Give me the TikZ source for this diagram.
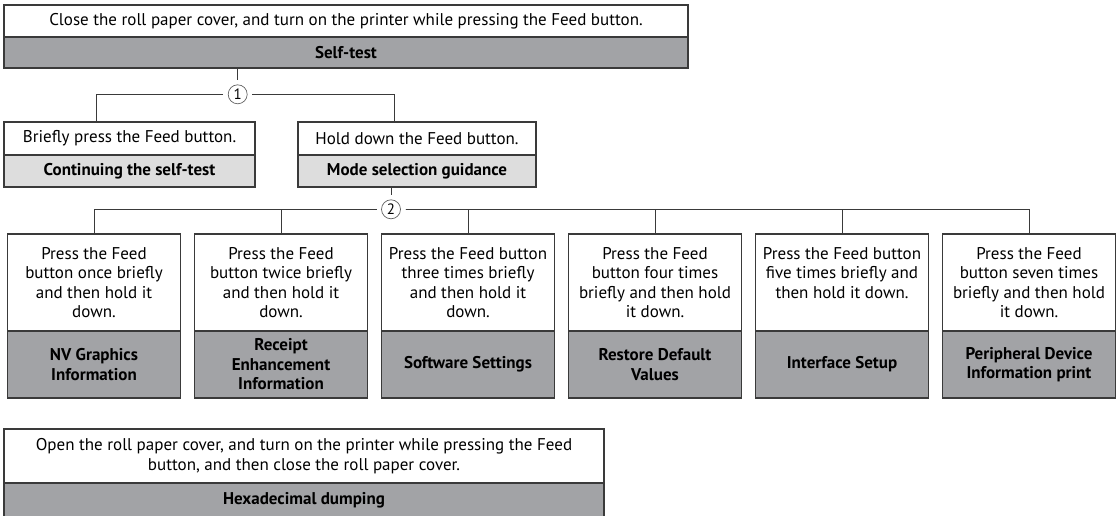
\documentclass[tikz,border=0pt]{standalone}
\usepackage{fontspec}
\setmainfont{PT Sans}
\definecolor{linec}{HTML}{3A3A3A}
\definecolor{dgray}{HTML}{A2A3A6}
\definecolor{lgray}{HTML}{DDDDDD}
\newcommand{\bodyfont}{\fontsize{17}{19.5}\selectfont}
\begin{document}
\begin{tikzpicture}[x=1pt,y=-1pt,
  box/.style={draw=linec, line width=1.1pt, inner sep=0pt, outer sep=0pt, align=center, font=\bodyfont},
  wpart/.style={box, fill=white},
  dpart/.style={box, fill=dgray, font=\bodyfont\bfseries},
  lpart/.style={box, fill=lgray, font=\bodyfont\bfseries},
  txt/.style={inner sep=0pt, outer sep=0pt, align=center, font=\bodyfont, anchor=north},
  conn/.style={draw=linec, line width=1pt},
  circ/.style={circle, draw=linec!80, line width=0.7pt, minimum size=19pt, inner sep=0pt, outer sep=5pt, font=\fontsize{15}{15}\selectfont}
]
\useasboundingbox (0,0) rectangle (1116,515);

% top box
\node[wpart, minimum width=684, minimum height=32, anchor=north west] (top) at (4,5)
  {Close the roll paper cover, and turn on the printer while pressing the Feed button.};
\node[dpart, minimum width=684, minimum height=31, anchor=north] (selftest) at (top.south) {Self-test};

% circle 1
\node[circ] (n1) at (237.7,94.3) {1};

% A and B
\node[wpart, minimum width=251, minimum height=33, anchor=north west] (A) at (4,122) {Briefly press the Feed button.};
\node[lpart, minimum width=251, minimum height=32, anchor=north] (Ag) at (A.south) {Continuing the self-test};
\node[wpart, minimum width=238, minimum height=33, anchor=north west] (B) at (298,122) {Hold down the Feed button.};
\node[lpart, minimum width=238, minimum height=32, anchor=north] (Bg) at (B.south) {Mode selection guidance};

\draw[conn] (selftest.south -| n1) -- (n1.north);
\draw[conn] (n1.west) -| ([xshift=92pt]A.north west);
\draw[conn] (n1.east) -| ([xshift=96pt]B.north west);

% circle 2
\node[circ] (n2) at (391,209.3) {2};
\draw[conn] (Bg.south -| n2) -- (n2.north);

% bottom boxes
\foreach \i/\cx in {1/94,2/281,3/468,4/655,5/842,6/1029}{
  \node[wpart, minimum width=173, minimum height=97, anchor=north] (b\i w) at (\cx,234) {};
}
\node[txt] (b1t) at ([yshift=-13pt]b1w.north) {Press the Feed\\button once briefly\\and then hold it\\down.};
\node[txt] (b2t) at ([yshift=-13pt]b2w.north) {Press the Feed\\button twice briefly\\and then hold it\\down.};
\node[txt] (b3t) at ([yshift=-13pt]b3w.north) {Press the Feed button\\three times briefly\\and then hold it\\down.};
\node[txt] (b4t) at ([yshift=-13pt]b4w.north) {Press the Feed\\button four times\\briefly and then hold\\it down.};
\node[txt] (b5t) at ([yshift=-13pt]b5w.north) {Press the Feed button\\five times briefly and\\then hold it down.};
\node[txt] (b6t) at ([yshift=-13pt]b6w.north) {Press the Feed\\button seven times\\briefly and then hold\\it down.};

\node[dpart, minimum width=173, minimum height=67, anchor=north] (b1g) at (b1w.south) {NV Graphics\\Information};
\node[dpart, minimum width=173, minimum height=67, anchor=north] (b2g) at (b2w.south) {Receipt\\Enhancement\\Information};
\node[dpart, minimum width=173, minimum height=67, anchor=north] (b3g) at (b3w.south) {Software Settings};
\node[dpart, minimum width=173, minimum height=67, anchor=north] (b4g) at (b4w.south) {Restore Default\\Values};
\node[dpart, minimum width=173, minimum height=67, anchor=north] (b5g) at (b5w.south) {Interface Setup};
\node[dpart, minimum width=173, minimum height=67, anchor=north] (b6g) at (b6w.south) {Peripheral Device\\Information print};

\draw[conn] (n2.west) -| (b1w.north);
\draw[conn] (n2.west) -| (b2w.north);
\draw[conn] (n2.east) -| (b3w.north);
\draw[conn] (n2.east) -| (b4w.north);
\draw[conn] (n2.east) -| (b5w.north);
\draw[conn] (n2.east) -| (b6w.north);

% hex box
\node[wpart, minimum width=600, minimum height=54, anchor=north west] (hex) at (4,429)
  {Open the roll paper cover, and turn on the printer while pressing the Feed\\button, and then close the roll paper cover.};
\node[dpart, minimum width=600, minimum height=34, anchor=north] (hexg) at (hex.south) {Hexadecimal dumping};
\end{tikzpicture}
\end{document}
